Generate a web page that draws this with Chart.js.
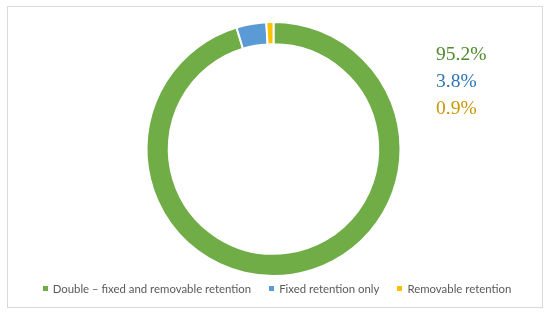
<!DOCTYPE html>
<html>
<head>
<meta charset="utf-8">
<script src="https://cdn.jsdelivr.net/npm/chart.js@4/dist/chart.umd.min.js"></script>
<style>
  body { margin: 0; background: #fff; }
  #frame {
    position: absolute; left: 7px; top: 6px; width: 534px; height: 300px;
    border: 1px solid #d9d9d9;
  }
  #pct { position: absolute; left: 428px; top: 33px; font-family: "Liberation Serif", serif; font-size: 19.5px; line-height: 27px; }
  #legend {
    position: absolute; left: 0; right: -4px; top: 274px; height: 14px;
    display: flex; justify-content: center; align-items: center;
    font-family: Lato, sans-serif; font-size: 11.4px; color: #595959; white-space: nowrap;
  }
  #legend span.item { display: flex; align-items: center; margin: 0 9px; }
  #legend i { display: inline-block; width: 5px; height: 5px; margin-right: 5px; }
</style>
</head>
<body>
<div id="frame">
  <canvas id="chart" width="534" height="300"></canvas>
  <div id="pct"></div>
  <div id="legend"></div>
</div>
<script>
const labels = ["Double – fixed and removable retention", "Fixed retention only", "Removable retention"];
const values = [95.2, 3.8, 0.9];
const colors = ["#70ad47", "#5b9bd5", "#ffc000"];
const textColors = ["#4e8a2c", "#2e74b5", "#c99700"];

const pct = document.getElementById("pct");
values.forEach((v, i) => {
  const d = document.createElement("div");
  d.textContent = v.toFixed(1) + "%";
  d.style.color = textColors[i];
  pct.appendChild(d);
});

const legend = document.getElementById("legend");
labels.forEach((l, i) => {
  const item = document.createElement("span");
  item.className = "item";
  const box = document.createElement("i");
  box.style.background = colors[i];
  item.appendChild(box);
  item.appendChild(document.createTextNode(l));
  legend.appendChild(item);
});

const ctx = document.getElementById("chart").getContext("2d");
const chart = new Chart(ctx, {
  type: "doughnut",
  data: {
    labels: labels,
    datasets: [
      {
        data: values,
        backgroundColor: colors,
        borderColor: "#ffffff",
        borderWidth: 2,
      },
    ],
  },
  options: {
    responsive: false,
    animation: false,
    cutout: "82.5%",
    layout: { padding: { top: 14, bottom: 30, left: 0, right: 3 } },
    plugins: {
      tooltip: { enabled: false },
      legend: { display: false },
    },
  },
});
</script>
</body>
</html>
